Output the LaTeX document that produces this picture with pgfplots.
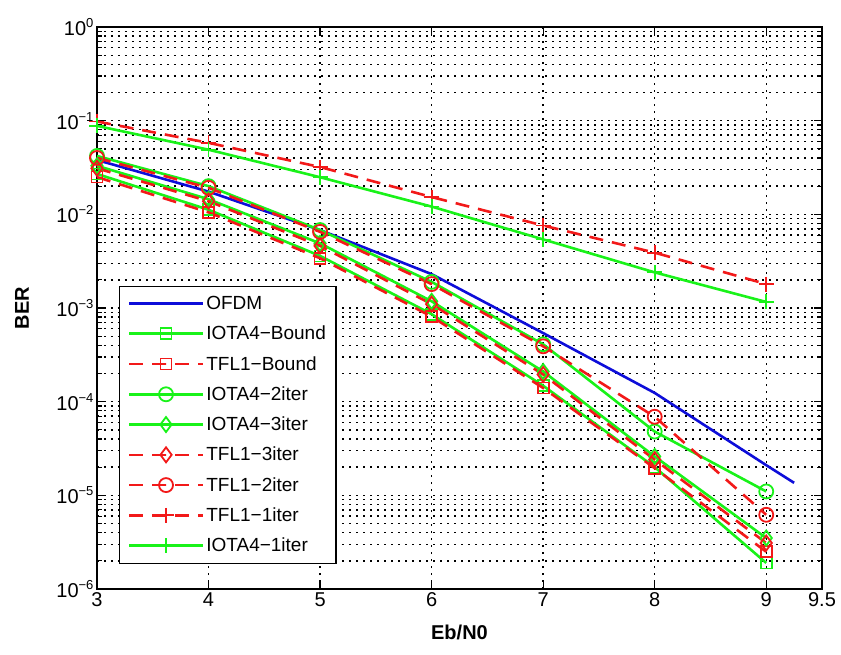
\documentclass[border=0pt]{standalone}
\usepackage{fontspec}
\setmainfont{Liberation Sans}
\usepackage{pgfplots}
\pgfplotsset{compat=1.18}
\definecolor{mgreen}{rgb}{0.1,0.95,0.1}
\definecolor{mred}{rgb}{0.95,0.1,0.1}
\definecolor{mblue}{rgb}{0.05,0.05,0.85}
\newcommand\tp[1]{10\raisebox{8pt}{\fontsize{13}{13}\selectfont #1}}
\begin{document}
\begin{tikzpicture}
\path[use as bounding box] (-97pt,-65pt) rectangle (744pt,589pt);
\begin{axis}[
  at={(0pt,0pt)}, anchor=south west,
  scale only axis, width=725pt, height=562pt,
  xmin=3, xmax=9.5, ymode=log, ymin=1e-6, ymax=1,
  xtick={3,4,5,6,7,8,9,9.5}, xticklabels={3,4,5,6,7,8,9,9.5},
  ytick={1e-6,1e-5,1e-4,1e-3,1e-2,1e-1,1},
  yticklabels={\tp{−6},\tp{−5},\tp{−4},\tp{−3},\tp{−2},\tp{−1},\tp{0}},
  tick label style={font=\fontsize{20}{20}\selectfont},
  tick align=inside, major tick length=8pt, minor tick length=5pt,
  axis line style={line width=1.5pt},
  every tick/.style={black, line width=1.2pt},
  xmajorgrids, ymajorgrids, yminorgrids,
  major grid style={black, line width=1.4pt, dash pattern=on 2pt off 5pt},
  minor grid style={black, line width=1.4pt, dash pattern=on 2pt off 5pt},
  xlabel={\textbf{Eb/N0}}, ylabel={\textbf{BER}},
  label style={font=\fontsize{20}{20}\selectfont},
  xlabel style={at={(axis description cs:0.5,-0.0765)}, anchor=center},
  ylabel style={at={(axis description cs:-0.1034,0.5)}, anchor=center},
  legend style={at={(axis description cs:0.0303,0.0445)}, anchor=south west,
    font=\fontsize{19}{19}\selectfont, draw=black, line width=1.5pt, fill=white,
    row sep=11pt, cells={anchor=west}, inner xsep=8pt, inner ysep=8pt},
  legend image code/.code={\draw[mark repeat=2,mark phase=2,#1] plot coordinates {(0pt,0pt) (37pt,0pt) (74pt,0pt)};},
  every axis plot/.append style={line width=2.6pt},
]
\addplot[mblue, no markers] coordinates {(3,0.038)(4,0.0175)(5,0.0068)(6,0.0023)(7,5.4e-4)(8,1.24e-4)(9,2.1e-5)(9.25,1.36e-5)};
\addlegendentry{OFDM}
\addplot[mgreen, mark=square, mark size=5.5pt, mark options={solid,line width=1.8pt}] coordinates {(3,0.027)(4,0.0112)(5,0.0036)(6,8.6e-4)(7,1.48e-4)(8,2.0e-5)(9,1.9e-6)};
\addlegendentry{IOTA4−Bound}
\addplot[mred, dash pattern=on 14pt off 9pt, mark=square, mark size=5.5pt, mark options={solid,line width=1.8pt}] coordinates {(3,0.025)(4,0.0105)(5,0.0034)(6,8.1e-4)(7,1.40e-4)(8,1.95e-5)(9,2.5e-6)};
\addlegendentry{TFL1−Bound}
\addplot[mgreen, mark=o, mark size=7pt, mark options={solid,line width=1.8pt}] coordinates {(3,0.042)(4,0.0200)(5,0.0068)(6,0.0019)(7,4.1e-4)(8,4.8e-5)(9,1.1e-5)};
\addlegendentry{IOTA4−2iter}
\addplot[mgreen, mark=diamond, mark size=7.5pt, mark options={solid,line width=1.8pt}] coordinates {(3,0.033)(4,0.0145)(5,0.0049)(6,0.00118)(7,2.1e-4)(8,2.6e-5)(9,3.5e-6)};
\addlegendentry{IOTA4−3iter}
\addplot[mred, dash pattern=on 14pt off 9pt, mark=diamond, mark size=7.5pt, mark options={solid,line width=1.8pt}] coordinates {(3,0.031)(4,0.0138)(5,0.0046)(6,0.00110)(7,1.95e-4)(8,2.4e-5)(9,3.1e-6)};
\addlegendentry{TFL1−3iter}
\addplot[mred, dash pattern=on 14pt off 9pt, mark=o, mark size=7pt, mark options={solid,line width=1.8pt}] coordinates {(3,0.040)(4,0.0192)(5,0.0065)(6,0.0018)(7,3.9e-4)(8,6.9e-5)(9,6.2e-6)};
\addlegendentry{TFL1−2iter}
\addplot[mred, dash pattern=on 14pt off 9pt, mark=+, mark size=7.5pt, mark options={solid,line width=1.8pt}] coordinates {(3,0.098)(4,0.058)(5,0.032)(6,0.0153)(7,7.6e-3)(8,3.9e-3)(9,1.8e-3)};
\addlegendentry{TFL1−1iter}
\addplot[mgreen, mark=+, mark size=7.5pt, mark options={solid,line width=1.8pt}] coordinates {(3,0.088)(4,0.049)(5,0.0249)(6,0.0121)(7,5.4e-3)(8,2.4e-3)(9,1.16e-3)};
\addlegendentry{IOTA4−1iter}
\end{axis}
\end{tikzpicture}
\end{document}
